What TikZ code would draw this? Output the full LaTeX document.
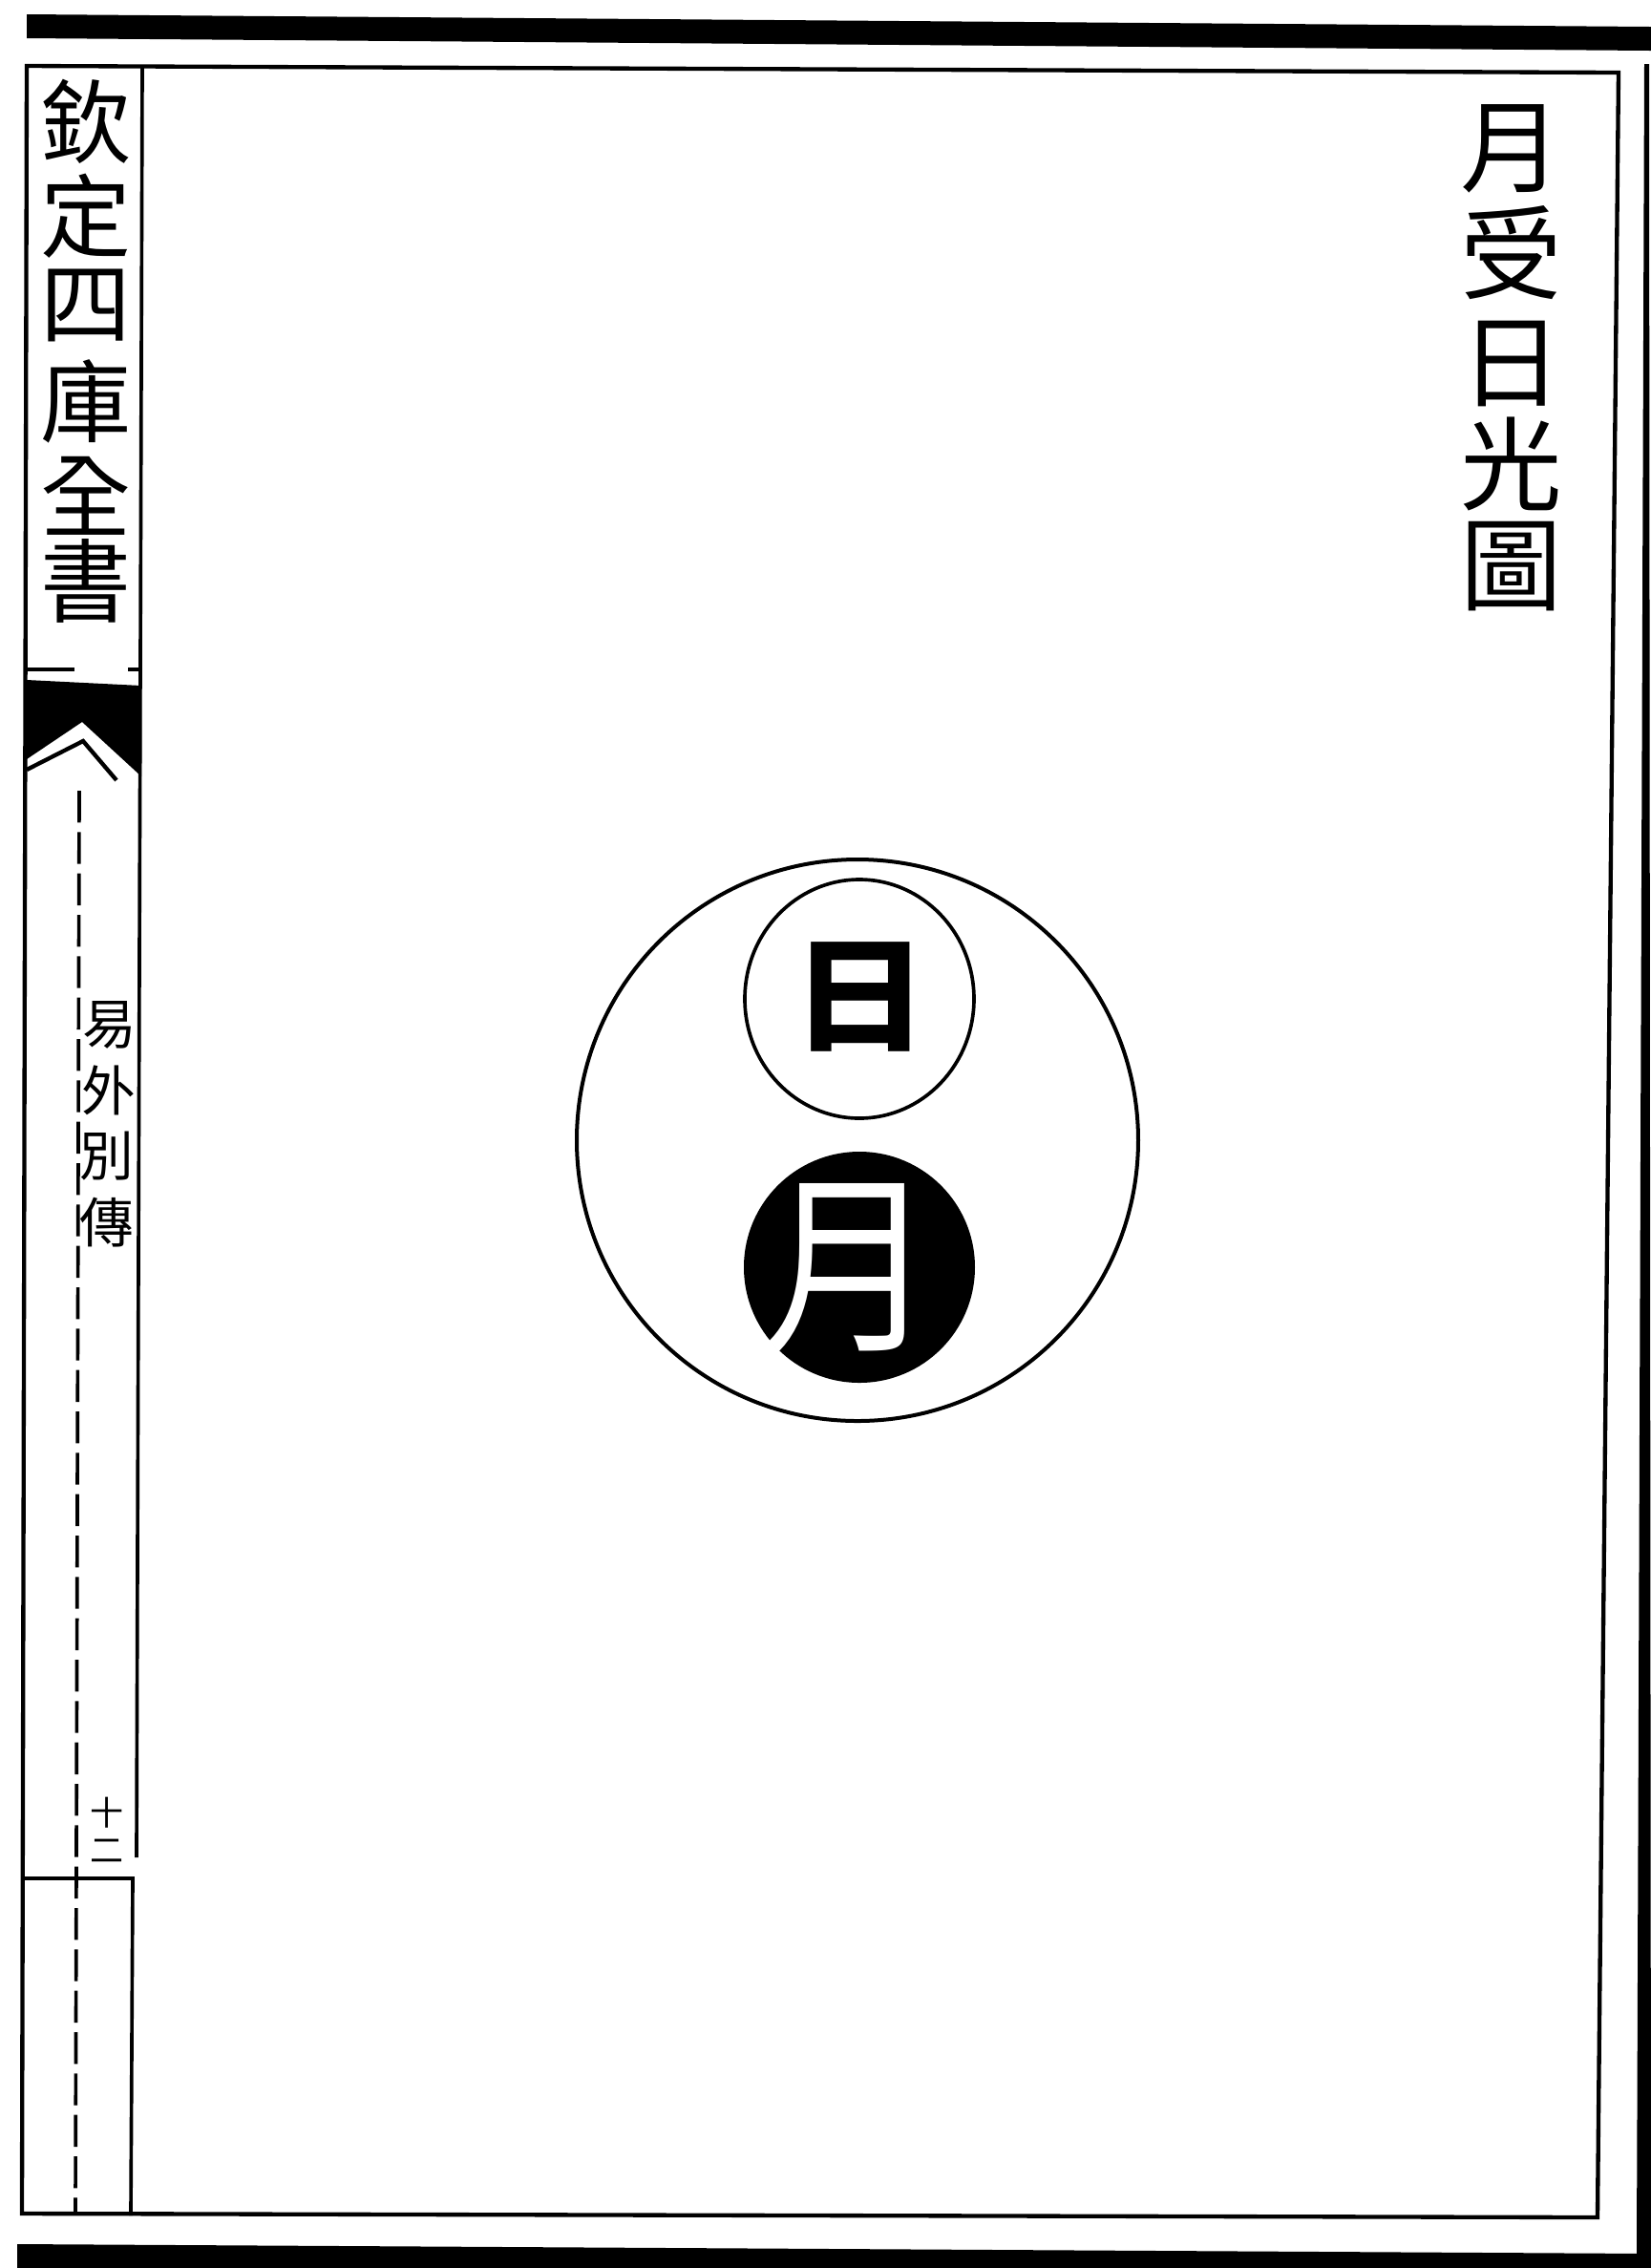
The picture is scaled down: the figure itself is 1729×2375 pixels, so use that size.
\documentclass[tikz,border=0pt]{standalone}
\usepackage{fontspec}
\newfontfamily\cjk{Noto Sans CJK TC}
\newcommand\myfs[1]{\fontsize{#1}{#1}\selectfont}
\begin{document}
\begin{tikzpicture}[x=0.3pt,y=-0.3pt,
  frameline/.style={line width=1.3pt,black},
  thinline/.style={line width=1.1pt,black},
  ch/.style={inner sep=0pt,outer sep=0pt,font=\cjk},
  ltitle/.style={ch,font=\cjk\myfs{28.5pt}},
  rtitle/.style={ch,font=\cjk\myfs{32pt}},
  side/.style={ch,font=\cjk\myfs{17pt}},
  pageno/.style={ch,font=\cjk\myfs{10.5pt}}]
\useasboundingbox (0,0) rectangle (1729,2375);
\fill[white] (0,0) rectangle (1729,2375);
% dark scan margins
\fill[black] (28,15) -- (1729,28) -- (1729,53) -- (28,40) -- cycle;
\fill[black] (18,2350) -- (1729,2360) -- (1729,2375) -- (18,2375) -- cycle;
\fill[black] (1722,67) -- (1727,67) -- (1729,2360) -- (1714,2360) -- cycle;
% frame
\coordinate (tl) at (28,69);
\coordinate (tr) at (1695,76);
\coordinate (br) at (1673,2322);
\coordinate (bl) at (23,2318);
\draw[frameline] (tl) -- (tr) -- (br) -- (bl) -- cycle;
% left column
\coordinate (c1) at (149,70);
\coordinate (c2) at (143,1945);
\draw[thinline] (c1) -- (c2);
\coordinate (h1a) at (28,701);
\coordinate (h1b) at (78,701);
\coordinate (h1c) at (134,701);
\coordinate (h1d) at (148,701);
\draw[thinline] (h1a) -- (h1b) (h1c) -- (h1d);
% fishtail
\fill[black] (28,712) -- (148,718) -- (148,813) -- (86,756) -- (28,795) -- cycle;
\coordinate (f1) at (28,806);
\coordinate (f2) at (87,776);
\coordinate (f3) at (122,817);
\draw[line width=1.3pt] (f1) -- (f2) -- (f3);
% dashed centre line
\coordinate (d1) at (83,828);
\coordinate (d2) at (79,2318);
\draw[line width=1.1pt,dash pattern=on 10pt off 3pt] (d1) -- (d2);
% lower division
\coordinate (h2a) at (24,1967);
\coordinate (h2b) at (139,1967);
\coordinate (c3) at (137,2320);
\draw[thinline] (h2a) -- (h2b) -- (c3);
% left title
\node[ltitle] (l1) at (90,127) {欽};
\node[ltitle] (l2) at (90,226) {定};
\node[ltitle] (l3) at (90,320) {四};
\node[ltitle] (l4) at (90,420) {庫};
\node[ltitle] (l5) at (90,519) {全};
\node[ltitle] (l6) at (90,608) {書};
% side text
\node[side] (s1) at (115,1073) {易};
\node[side] (s2) at (114,1142) {外};
\node[side] (s3) at (112,1211) {別};
\node[side] (s4) at (112,1280) {傳};
% page number
\node[pageno] (n1) at (112,1898) {十};
\node[pageno] (n2) at (112,1938) {二};
% right title
\node[rtitle] (r1) at (1583,156) {月};
\node[rtitle] (r2) at (1583,265) {受};
\node[rtitle] (r3) at (1583,381) {日};
\node[rtitle] (r4) at (1583,486) {光};
\node[rtitle] (r5) at (1583,593) {圖};
% diagram
\coordinate (bigc) at (898,1194);
\draw[line width=1.2pt] (bigc) circle [radius=88.2pt];
\coordinate (sunc) at (900,1046);
\draw[line width=1.1pt] (sunc) ellipse [x radius=36pt,y radius=37.5pt];
\coordinate (moonc) at (900,1327);
\fill[black] (moonc) circle [radius=36.3pt];
\node[ch,font=\cjk\bfseries\myfs{39pt},xscale=1.1] (ri) at (901,1044) {日};
\node[ch,font=\cjk\myfs{61pt},text=white,xscale=0.88] (yue) at (890,1328) {月};
\end{tikzpicture}
\end{document}
